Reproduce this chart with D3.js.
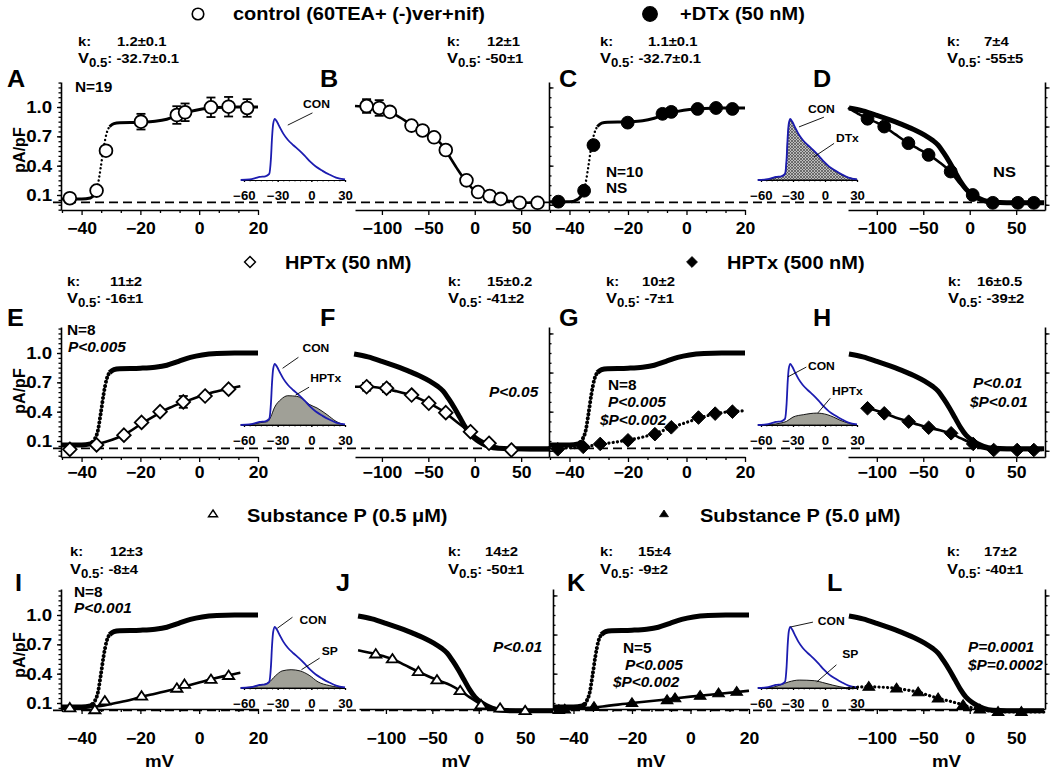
<!DOCTYPE html>
<html><head><meta charset="utf-8">
<script src="https://cdn.jsdelivr.net/npm/d3@7"></script>
<style>body{margin:0;background:#fff}svg{display:block}text{font-family:"Liberation Sans",Arial,Helvetica,sans-serif;font-weight:bold}</style>
</head><body><svg id="chart" width="1050" height="775"></svg>
<script>
// ================= DATA =================
// fits: [mV, normalized pA/pF]
const ctrlActFit = [[-47,0.06],[-40,0.06],[-37,0.07],[-36,0.09],[-35.5,0.12],[-34.5,0.2],[-33.5,0.38],[-32.5,0.58],[-31.5,0.73],[-30.5,0.8],[-29,0.83],[-27,0.84],[-20,0.845],[-15,0.855],[-11,0.875],[-7,0.915],[-3,0.955],[1,0.98],[6,0.995],[12,1.0],[20,1.0]];
const ctrlInactFitB = [[-129,1.01],[-116,1.0],[-103,0.985],[-91,0.95],[-80,0.89],[-68,0.82],[-56,0.76],[-44,0.69],[-37,0.63],[-31,0.55],[-25,0.46],[-19,0.37],[-14,0.3],[-9,0.24],[-3,0.17],[4,0.12],[10,0.095],[16,0.08],[28,0.055],[40,0.035],[48,0.025],[60,0.02],[70,0.02]];
const ctrlInactFit = [[-130,0.99],[-115,0.96],[-100,0.915],[-85,0.865],[-70,0.81],[-58,0.76],[-48,0.71],[-40,0.66],[-34,0.61],[-28,0.53],[-22,0.44],[-16,0.34],[-10,0.24],[-4,0.16],[2,0.11],[8,0.075],[15,0.045],[25,0.025],[40,0.02],[80,0.02]];
const dtxActFit = [[-47,0.03],[-40,0.03],[-37,0.06],[-36,0.09],[-35.5,0.12],[-34.5,0.22],[-33.5,0.4],[-32.5,0.6],[-31.5,0.73],[-30.5,0.8],[-29,0.835],[-27,0.845],[-20,0.85],[-15,0.86],[-11,0.885],[-7,0.925],[-3,0.955],[1,0.975],[6,0.985],[12,0.99],[20,0.99]];
const dtxInactFit = [[-131,0.99],[-120,0.93],[-110,0.88],[-100,0.84],[-92,0.8],[-80,0.72],[-66,0.63],[-55,0.57],[-44,0.51],[-32,0.43],[-20,0.33],[-10,0.21],[0,0.12],[8,0.06],[16,0.03],[25,0.02],[50,0.02],[70,0.02]];
const hp50ActFit = [[-47,0.06],[-40,0.06],[-36,0.065],[-32,0.09],[-28,0.13],[-24,0.19],[-20,0.27],[-15,0.36],[-10,0.44],[-5,0.5],[0,0.555],[5,0.6],[10,0.635],[14,0.66]];
const hp50InactFit = [[-129,0.655],[-116,0.655],[-100,0.64],[-85,0.61],[-68,0.565],[-50,0.49],[-35,0.41],[-20,0.3],[-5,0.19],[5,0.12],[15,0.07],[28,0.03],[40,0.01],[60,0.005],[80,0.005]];
const hp500ActFit = [[-47,0.03],[-40,0.03],[-35,0.04],[-30,0.065],[-25,0.085],[-20,0.11],[-15,0.14],[-10,0.185],[-5,0.24],[0,0.29],[5,0.34],[10,0.38],[15,0.4],[20,0.41]];
const hp500InactFit = [[-113,0.44],[-100,0.41],[-92,0.385],[-80,0.34],[-66,0.3],[-55,0.265],[-44,0.236],[-32,0.21],[-20,0.175],[-10,0.13],[0,0.085],[8,0.045],[16,0.02],[26,0.008],[50,0.008],[78,0.008]];
const sp05ActFit = [[-47,0.06],[-38,0.06],[-35,0.065],[-30,0.09],[-25,0.12],[-20,0.16],[-15,0.195],[-10,0.23],[-5,0.27],[0,0.31],[5,0.35],[10,0.385],[14,0.41]];
const sp05InactFit = [[-130,0.64],[-111,0.6],[-93,0.55],[-80,0.49],[-65,0.42],[-45,0.335],[-30,0.28],[-20,0.225],[-10,0.16],[0,0.1],[10,0.06],[23,0.04],[40,0.025],[55,0.02],[80,0.02]];
const sp50ActFit = [[-47,0.035],[-40,0.04],[-35,0.05],[-30,0.065],[-20,0.1],[-10,0.13],[0,0.165],[10,0.195],[20,0.225]];
const sp50InactFit = [[-130,0.25],[-120,0.262],[-109,0.267],[-95,0.262],[-79,0.25],[-67,0.232],[-55,0.21],[-45,0.18],[-34,0.148],[-20,0.115],[-7,0.08],[3,0.05],[11,0.035],[20,0.02],[30,0.01],[55,0.008],[80,0.008]];

// data points: [mV, value, sem]
const ctrlActPts = [[-44,0.067,0],[-34.9,0.145,0],[-31.7,0.553,0],[-19.8,0.85,0.08],[-7.6,0.918,0.09],[-4.8,0.946,0.09],[4,0.997,0.1],[10,1.003,0.1],[16.3,0.99,0.09]];
const ctrlInactPts = [[-116.5,1.01,0.07],[-102.9,0.99,0.08],[-91.4,0.95,0],[-68.1,0.81,0],[-56.2,0.76,0],[-43.8,0.69,0],[-31.2,0.56,0],[-8.9,0.25,0],[3.6,0.13,0],[16.1,0.09,0],[28,0.06,0],[48.4,0.02,0],[67.7,0.02,0]];
const dtxActPts = [[-43.8,0.032,0],[-35,0.144,0],[-31.8,0.61,0],[-20.1,0.84,0],[-8.2,0.93,0],[-5.2,0.95,0],[3.8,0.98,0],[10.1,0.99,0],[15.7,0.98,0]];
const dtxInactPts = [[-110,0.88,0],[-92,0.8,0],[-66,0.63,0],[-44.3,0.51,0],[-20.5,0.34,0],[3.2,0.1,0],[24.8,0.02,0],[51.8,0.02,0],[69,0.02,0]];
const hp50ActPts = [[-44,0.015,0],[-34.9,0.06,0],[-25.6,0.16,0],[-19.6,0.29,0],[-13.3,0.4,0],[-5.4,0.5,0.06],[2,0.56,0],[10,0.63,0]];
const hp50InactPts = [[-116.5,0.655,0.04],[-95,0.64,0.04],[-68,0.57,0],[-49.5,0.486,0],[-31.2,0.39,0],[-4.6,0.195,0],[15.4,0.077,0],[39.5,0.008,0]];
const hp500ActPts = [[-44,0.015,0],[-35.3,0.04,0],[-29.5,0.07,0],[-20,0.107,0],[-10.8,0.17,0],[-5.2,0.24,0],[4.1,0.34,0],[9.8,0.38,0],[15.7,0.4,0]];
const hp500InactPts = [[-110,0.435,0],[-92,0.383,0],[-65.7,0.298,0],[-44.2,0.236,0],[-20,0.179,0],[3.7,0.07,0],[25.8,0.008,0],[51,0.008,0],[69,0.008,0]];
const sp05ActPts = [[-44,0.05,0],[-35.5,0.03,0],[-32.1,0.12,0],[-19.6,0.17,0],[-7.6,0.25,0],[-5,0.29,0],[4,0.34,0],[10,0.38,0]];
const sp05InactPts = [[-111,0.6,0],[-93,0.55,0],[-65,0.42,0],[-45,0.335,0],[-20,0.225,0],[2.5,0.08,0],[23,0.046,0],[50,0.02,0]];
const sp50ActPts = [[-45,0.03,0],[-43,0.035,0],[-33,0.06,0],[-20,0.1,0],[-8,0.13,0],[-5.3,0.15,0],[3.3,0.175,0],[9.6,0.2,0],[15.8,0.215,0]];
const sp50InactPts = [[-108.6,0.267,0],[-78.8,0.25,0],[-55.5,0.21,0],[-34,0.148,0],[-7.1,0.08,0],[10.8,0.035,0],[30.5,0.01,0],[55.6,0.01,0]];

// inset current-density distributions (mV, normalized)
const insetCON = [[-63,0],[-55,0.01],[-50,0.03],[-46,0.05],[-41,0.06],[-37.5,0.1],[-36,0.35],[-35,0.7],[-34,0.92],[-32.5,1.0],[-30.5,0.95],[-28,0.86],[-25,0.76],[-21,0.66],[-16,0.57],[-11,0.49],[-6,0.4],[-1,0.3],[4,0.22],[10,0.15],[16,0.09],[22,0.04],[30,0.01]];
const insetDTx = [[-63,0],[-55,0.01],[-50,0.02],[-46,0.04],[-41,0.06],[-37.5,0.1],[-36,0.33],[-35,0.68],[-34,0.9],[-32.5,0.98],[-30.5,0.94],[-28,0.85],[-25,0.75],[-21,0.65],[-16,0.56],[-11,0.48],[-6,0.39],[-1,0.29],[4,0.21],[10,0.14],[16,0.08],[22,0.04],[30,0.01]];
const insetHP50 = [[-63,0],[-50,0.02],[-45,0.04],[-39,0.055],[-36,0.14],[-33,0.28],[-27,0.42],[-21,0.48],[-13,0.47],[-8,0.43],[-2,0.34],[5,0.28],[14,0.17],[22,0.06],[30,0]];
const insetHP500 = [[-63,0],[-50,0.01],[-42,0.03],[-36,0.06],[-30,0.13],[-20,0.17],[-8,0.195],[2,0.17],[8,0.13],[14,0.08],[22,0.03],[30,0]];
const insetSP05 = [[-63,0],[-47,0.04],[-38,0.09],[-32,0.2],[-26,0.28],[-18,0.3],[-10,0.28],[-2,0.21],[6,0.1],[16,0.04],[30,0]];
const insetSP50 = [[-63,0],[-50,0.01],[-42,0.05],[-34,0.1],[-24,0.13],[-10,0.12],[0,0.08],[14,0.02],[24,0],[30,0]];

// text
const letters = ['A','B','C','D','E','F','G','H','I','J','K','L'];
const kVals = ['1.2±0.1','12±1','1.1±0.1','7±4','11±2','15±0.2','10±2','16±0.5','12±3','14±2','15±4','17±2'];
const vVals = ['-32.7±0.1','-50±1','-32.7±0.1','-55±5','-16±1','-41±2','-7±1','-39±2','-8±4','-50±1','-9±2','-40±1'];
const legendTexts = ['control (60TEA+ (-)ver+nif)','+DTx (50 nM)','HPTx (50 nM)','HPTx (500 nM)','Substance P (0.5 μM)','Substance P (5.0 μM)'];
const actTicks = [-40,-20,0,20];
const inactTicks = [-100,-50,0,50];
const yTicks = [0.1,0.4,0.7,1.0];
const insetTicks = [-60,-30,0,30];
const zeroLevel = 0.025;

// ================= LAYOUT =================
const SX = 1.1;
const rowsCfg = [
 {Y1:107, axisY:210, top:82, labPad:7.5, insetBase:180, kY:46, vY:63, letY:87, legY:20, legSymY:14, ylabY:150, shift:0},
 {Y1:353, axisY:457, top:327, labPad:4.5, insetBase:425, kY:286, vY:303, letY:326, legY:269, legSymY:262, ylabY:391, shift:0},
 {Y1:615, axisY:709, top:589, labPad:19, insetBase:688, kY:556, vY:574, letY:591, legY:522, legSymY:514, ylabY:655, shift:4}
];
const letterX = [7,320,559,813, 7,320,559,813, 15,336,567,827];
const kX = [[78,117],[447,487],[600,648],[947,984],[67,110],[448,487],[606,642],[948,977],[70,110],[448,485],[600,638],[947,984]];
const legendPos = [[198,233,'oc'],[650,680,'fc'],[250,285,'od'],[692,727,'fd'],[213,247,'ot'],[664,700,'ft']];

const rowSeries = [
 [ {curves:[[ctrlActFit,'splitThin']], pts:ctrlActPts, sym:'oc'},
   {curves:[[ctrlInactFitB,'thin']], pts:ctrlInactPts, sym:'oc'},
   {curves:[[dtxActFit,'splitThin']], pts:dtxActPts, sym:'fc'},
   {curves:[[ctrlInactFit,'thick'],[dtxInactFit,'thin']], pts:dtxInactPts, sym:'fc'} ],
 [ {curves:[[ctrlActFit,'splitThick'],[hp50ActFit,'thin']], pts:hp50ActPts, sym:'od'},
   {curves:[[ctrlInactFit,'thick'],[hp50InactFit,'thin']], pts:hp50InactPts, sym:'od'},
   {curves:[[ctrlActFit,'splitThick'],[hp500ActFit,'dot']], pts:hp500ActPts, sym:'fd'},
   {curves:[[ctrlInactFit,'thick'],[hp500InactFit,'thin']], pts:hp500InactPts, sym:'fd'} ],
 [ {curves:[[ctrlActFit,'splitThick'],[sp05ActFit,'thin']], pts:sp05ActPts, sym:'ot'},
   {curves:[[ctrlInactFit,'thick'],[sp05InactFit,'thin']], pts:sp05InactPts, sym:'ot'},
   {curves:[[ctrlActFit,'splitThick'],[sp50ActFit,'thin']], pts:sp50ActPts, sym:'ft'},
   {curves:[[ctrlInactFit,'thick'],[sp50InactFit,'dot']], pts:sp50InactPts, sym:'ft'} ]
];

const insetSpecs = [
 [ {data:null, labels:[['CON',[-7.4,1.18],[-21,0.9],[1,1.1]]]},
   {data:insetDTx, fill:'url(#hatch)', labels:[['CON',[-16,1.1],[-24.4,0.87],[-1,1.03]],['DTx',[10.3,0.62],[-10.3,0.38],[8.5,0.6]]]} ],
 [ {data:insetHP50, fill:'#a0a097', labels:[['CON',[-7.9,1.2],[-25.6,0.93],[-11.5,1.11]],['HPTx',[-0.9,0.7],[-14.1,0.49],[-2,0.62]]]},
   {data:insetHP500, fill:'#a0a097', labels:[['CON',[-16,0.9],[-34.7,0.79],[-17.5,0.95]],['HPTx',[6.5,0.49],[-6.6,0.2],[5,0.44]]]} ],
 [ {data:insetSP05, fill:'#a0a097', labels:[['CON',[-10.5,1.05],[-30.3,0.98],[-16.8,1.16]],['SP',[9.3,0.54],[-8.8,0.3],[7.4,0.49]]]},
   {data:insetSP50, fill:'#a0a097', labels:[['CON',[-6.7,1.03],[-32.4,1.0],[-11.3,1.08]],['SP',[16.2,0.49],[-7.7,0.1],[10.7,0.38]]]} ]
];

const annotations = [
 ['N=19',75,92,0,14],['N=10',606,177,0,14],['NS',606,193,0,14],['NS',993,177,0,15],
 ['N=8',67,335,0,14],['P<0.005',68,352,1,14],['P<0.05',489,397,1,14],
 ['N=8',608,390,0,14],['P<0.005',608,407,1,14],['$P<0.002',600,425,1,14],
 ['P<0.01',973,388,1,14],['$P<0.01',970,407,1,14],
 ['N=8',74,597,0,14],['P<0.001',74,613,1,14],['P<0.01',493,652,1,14],
 ['N=5',623,653,0,14],['P<0.005',625,670,1,14],['$P<0.002',613,687,1,14],
 ['P=0.0001',968,652,1,14],['$P=0.0002',968,670,1,14]
];

// ================= DRAW =================
const svg = d3.select('#chart');
const defs = svg.append('defs');
const pat = defs.append('pattern').attr('id','hatch').attr('patternUnits','userSpaceOnUse').attr('width',3).attr('height',3);
pat.append('rect').attr('width',3).attr('height',3).attr('fill','#bdbdbd');
pat.append('path').attr('d','M0,0L3,3M3,0L0,3').attr('stroke','#4a4a4a').attr('stroke-width',0.7);

function T(g, x, y, str, o={}) {
  const t = g.append('text').attr('transform',`translate(${x},${y}) scale(${o.sx||SX},1)`)
    .attr('font-size',o.size||14).attr('text-anchor',o.anchor||'start').attr('fill','#000');
  if (o.italic) t.attr('font-style','italic');
  if (str!==null) t.text(str);
  return t;
}
const symTypes = {
  c:{draw(ctx){ctx.moveTo(6.4,0);ctx.arc(0,0,6.4,0,2*Math.PI);}},
  d:{draw(ctx){ctx.moveTo(0,-6.8);ctx.lineTo(6.8,0);ctx.lineTo(0,6.8);ctx.lineTo(-6.8,0);ctx.closePath();}},
  t:{draw(ctx){ctx.moveTo(0,-5);ctx.lineTo(5.6,3.4);ctx.lineTo(-5.6,3.4);ctx.closePath();}}
};
function marker(g, code, x, y, scale=1) {
  const open = code[0]==='o';
  g.append('path').attr('d', d3.symbol().type(symTypes[code[1]])())
    .attr('transform',`translate(${x},${y}) scale(${scale})`)
    .attr('fill', open?'#fff':'#000').attr('stroke','#000').attr('stroke-width', open?1.8:1);
}
function styleAxis(ax, size) {
  ax.attr('font-family',null).attr('font-size',null);
  ax.select('.domain').attr('stroke','#000').attr('stroke-width',1.6);
  ax.selectAll('.tick line').attr('stroke','#000').attr('stroke-width',1.3);
  ax.selectAll('.tick text').attr('font-size',size).attr('fill','#000').attr('transform',`scale(${SX},1)`);
}
function drawCurve(g, x, y, data, style) {
  const line = d3.line().x(d=>x(d[0])).y(d=>y(d[1])).curve(d3.curveMonotoneX);
  const add = (dd, w, dash) => {
    const p = g.append('path').attr('d',line(dd)).attr('fill','none').attr('stroke','#000')
      .attr('stroke-width',w).attr('stroke-linejoin','round');
    if (dash) p.attr('stroke-dasharray',dash).attr('stroke-linecap','round');
  };
  if (style==='splitThin' || style==='splitThick') {
    const w = style==='splitThin'?3:5;
    add(data.filter(d=>d[0]<=-36), w);
    add(data.filter(d=>d[0]>=-36 && d[0]<=-30.5), w*0.8, '0.1,4');
    add(data.filter(d=>d[0]>=-30.5), w);
  } else if (style==='thick') add(data, 5);
  else if (style==='thin') add(data, 2.6);
  else if (style==='dot') add(data, 3.2, '0.1,4.2');
}

rowsCfg.forEach((rc, r) => {
  const g = svg.append('g');
  const y = d3.scaleLinear().domain([0.1,1.0]).range([rc.Y1+88, rc.Y1]);
  const yAx = d3.scaleLinear().domain([y.invert(rc.axisY), y.invert(rc.top)]).range([rc.axisY, rc.top]);
  const xs = [
    d3.scaleLinear().domain([-47,20]).range([61,258]),
    d3.scaleLinear().domain([-129,80]).range([355+rc.shift,549+rc.shift]),
    d3.scaleLinear().domain([-47,20]).range([549+rc.shift,745+rc.shift]),
    d3.scaleLinear().domain([-131,81]).range([848,1045])
  ];
  // zero dashed line
  g.append('line').attr('x1',53).attr('x2',1045).attr('y1',y(zeroLevel)).attr('y2',y(zeroLevel))
    .attr('stroke','#000').attr('stroke-width',1.6).attr('stroke-dasharray','9,5');

  // left y axis
  const [lo,hi] = yAx.domain();
  const minorY = d3.range(-0.05,1.30,0.05).filter(v=>v>=lo-1e-6 && v<=hi+1e-6);
  const axL = g.append('g').attr('transform','translate(61,0)')
    .call(d3.axisLeft(yAx).tickValues(yTicks).tickFormat(d3.format('.1f')).tickSize(4).tickSizeOuter(0).tickPadding(4));
  styleAxis(axL, 17);
  const axLm = g.append('g').attr('transform','translate(61,0)')
    .call(d3.axisLeft(yAx).tickValues(minorY).tickFormat('').tickSize(2.5).tickSizeOuter(0));
  styleAxis(axLm, 0); axLm.select('.domain').remove();
  // right axes (panel 2 right / panel 3 left, panel 4 right)
  [549+rc.shift, 1045].forEach(ax => {
    const maj = [0,0.4,0.8,1.2].filter(v=>v>=lo && v<=hi);
    const mnr = d3.range(0,1.3,0.1).filter(v=>v>=lo && v<=hi);
    const a1 = g.append('g').attr('transform',`translate(${ax},0)`)
      .call(d3.axisRight(yAx).tickValues(maj).tickFormat('').tickSize(4.5).tickSizeOuter(0));
    styleAxis(a1, 0);
    const a2 = g.append('g').attr('transform',`translate(${ax},0)`)
      .call(d3.axisRight(yAx).tickValues(mnr).tickFormat('').tickSize(2.5).tickSizeOuter(0));
    styleAxis(a2, 0); a2.select('.domain').remove();
  });
  // x axes
  xs.forEach((x,i) => {
    const act = i%2===0;
    const ax = g.append('g').attr('transform',`translate(0,${rc.axisY})`)
      .call(d3.axisBottom(x).tickValues(act?actTicks:inactTicks).tickFormat(d3.format('d')).tickSize(5).tickSizeOuter(0).tickPadding(rc.labPad));
    styleAxis(ax, 16);
    if (act) {
      const mn = d3.range(-60,21,20/3).filter(v=>v>=-47 && v<=20 && !actTicks.some(t=>Math.abs(t-v)<0.01));
      const am = g.append('g').attr('transform',`translate(0,${rc.axisY})`)
        .call(d3.axisBottom(x).tickValues(mn).tickFormat('').tickSize(3).tickSizeOuter(0));
      styleAxis(am, 0); am.select('.domain').remove();
    }
    if (r===2) T(g, (x.range()[0]+x.range()[1])/2, 767, 'mV', {size:17, anchor:'middle'});
  });
  // y label
  g.append('text').attr('transform',`translate(19,${rc.ylabY}) rotate(-90)`).attr('text-anchor','middle')
    .attr('dominant-baseline','central').attr('font-size',16).text('pA/pF');

  // insets
  const insetX = [d3.scaleLinear().domain([-60,30]).range([244,345]), d3.scaleLinear().domain([-60,30]).range([761,857])];
  insetX.forEach((ix, j) => {
    const spec = insetSpecs[r][j];
    const iy = d3.scaleLinear().domain([0,1]).range([rc.insetBase, rc.insetBase-61]);
    const ig = g.append('g');
    const axS = d3.scaleLinear().domain([-63,30]).range([ix(-63), ix(30)]);
    const ia = ig.append('g').attr('transform',`translate(0,${rc.insetBase})`)
      .call(d3.axisBottom(axS).tickValues(insetTicks).tickFormat(d3.format('d')).tickSize(2).tickSizeOuter(0).tickPadding(9));
    styleAxis(ia, 12);
    ia.select('.domain').attr('stroke-width',1);
    const im = ig.append('g').attr('transform',`translate(0,${rc.insetBase})`)
      .call(d3.axisBottom(axS).tickValues(d3.range(-60,31,5)).tickFormat('').tickSize(1.5).tickSizeOuter(0));
    styleAxis(im, 0); im.select('.domain').remove(); im.selectAll('line').attr('stroke-width',0.8);
    if (spec.data) {
      const area = d3.area().x(d=>ix(d[0])).y0(iy(0)).y1(d=>iy(d[1])).curve(d3.curveMonotoneX);
      ig.append('path').attr('d',area(spec.data)).attr('fill',spec.fill).attr('stroke','#000').attr('stroke-width',0.9);
    }
    const cl = d3.line().x(d=>ix(d[0])).y(d=>iy(d[1])).curve(d3.curveMonotoneX);
    ig.append('path').attr('d',cl(insetCON)).attr('fill','none').attr('stroke','#1c1cb0').attr('stroke-width',1.8);
    spec.labels.forEach(([txt, at, p0, p1]) => {
      ig.append('line').attr('x1',ix(p0[0])).attr('y1',iy(p0[1])).attr('x2',ix(p1[0])).attr('y2',iy(p1[1]))
        .attr('stroke','#000').attr('stroke-width',0.9);
      T(ig, ix(at[0]), iy(at[1]), txt, {size:11});
    });
  });

  // panels: curves + points
  rowSeries[r].forEach((ps, i) => {
    const x = xs[i];
    const pg = g.append('g');
    ps.curves.forEach(([d, st]) => drawCurve(pg, x, y, d, st));
    ps.pts.forEach(p => {
      if (p[2] > 0) {
        const cx = x(p[0]);
        pg.append('line').attr('x1',cx).attr('x2',cx).attr('y1',y(p[1]-p[2])).attr('y2',y(p[1]+p[2])).attr('stroke','#000').attr('stroke-width',1.8);
        [p[1]-p[2], p[1]+p[2]].forEach(v => pg.append('line').attr('x1',cx-4.5).attr('x2',cx+4.5).attr('y1',y(v)).attr('y2',y(v)).attr('stroke','#000').attr('stroke-width',1.8));
      }
    });
    ps.pts.forEach(p => marker(pg, ps.sym, x(p[0]), y(p[1]), ps.sym[1]==='t' && ps.sym[0]==='f' ? 1.05 : 1));
    // letter & k/V
    const idx = r*4+i;
    T(g, letterX[idx], rc.letY, letters[idx], {size:24, sx:1.05});
    T(g, kX[idx][0], rc.kY, 'k:', {size:13.5});
    T(g, kX[idx][1], rc.kY, kVals[idx], {size:13.5});
    const vt = T(g, kX[idx][0], rc.vY, null, {size:13.5});
    vt.append('tspan').attr('font-size',15).text('V');
    vt.append('tspan').attr('font-size',12).attr('dy',4).text('0.5');
    vt.append('tspan').attr('dy',-4).text(': '+vVals[idx]);
  });

  // legend
  [0,1].forEach(j => {
    const li = r*2+j, lp = legendPos[li];
    marker(g, lp[2], lp[0], rc.legSymY, lp[2][1]==='c'?(lp[2][0]==='f'?1.15:0.9):0.8);
    T(g, lp[1], rc.legY, legendTexts[li], {size:18, sx:1.11});
  });
});

annotations.forEach(([t,x,y,it,s]) => T(svg, x, y, t, {size:s, italic:!!it}));
</script></body></html>
